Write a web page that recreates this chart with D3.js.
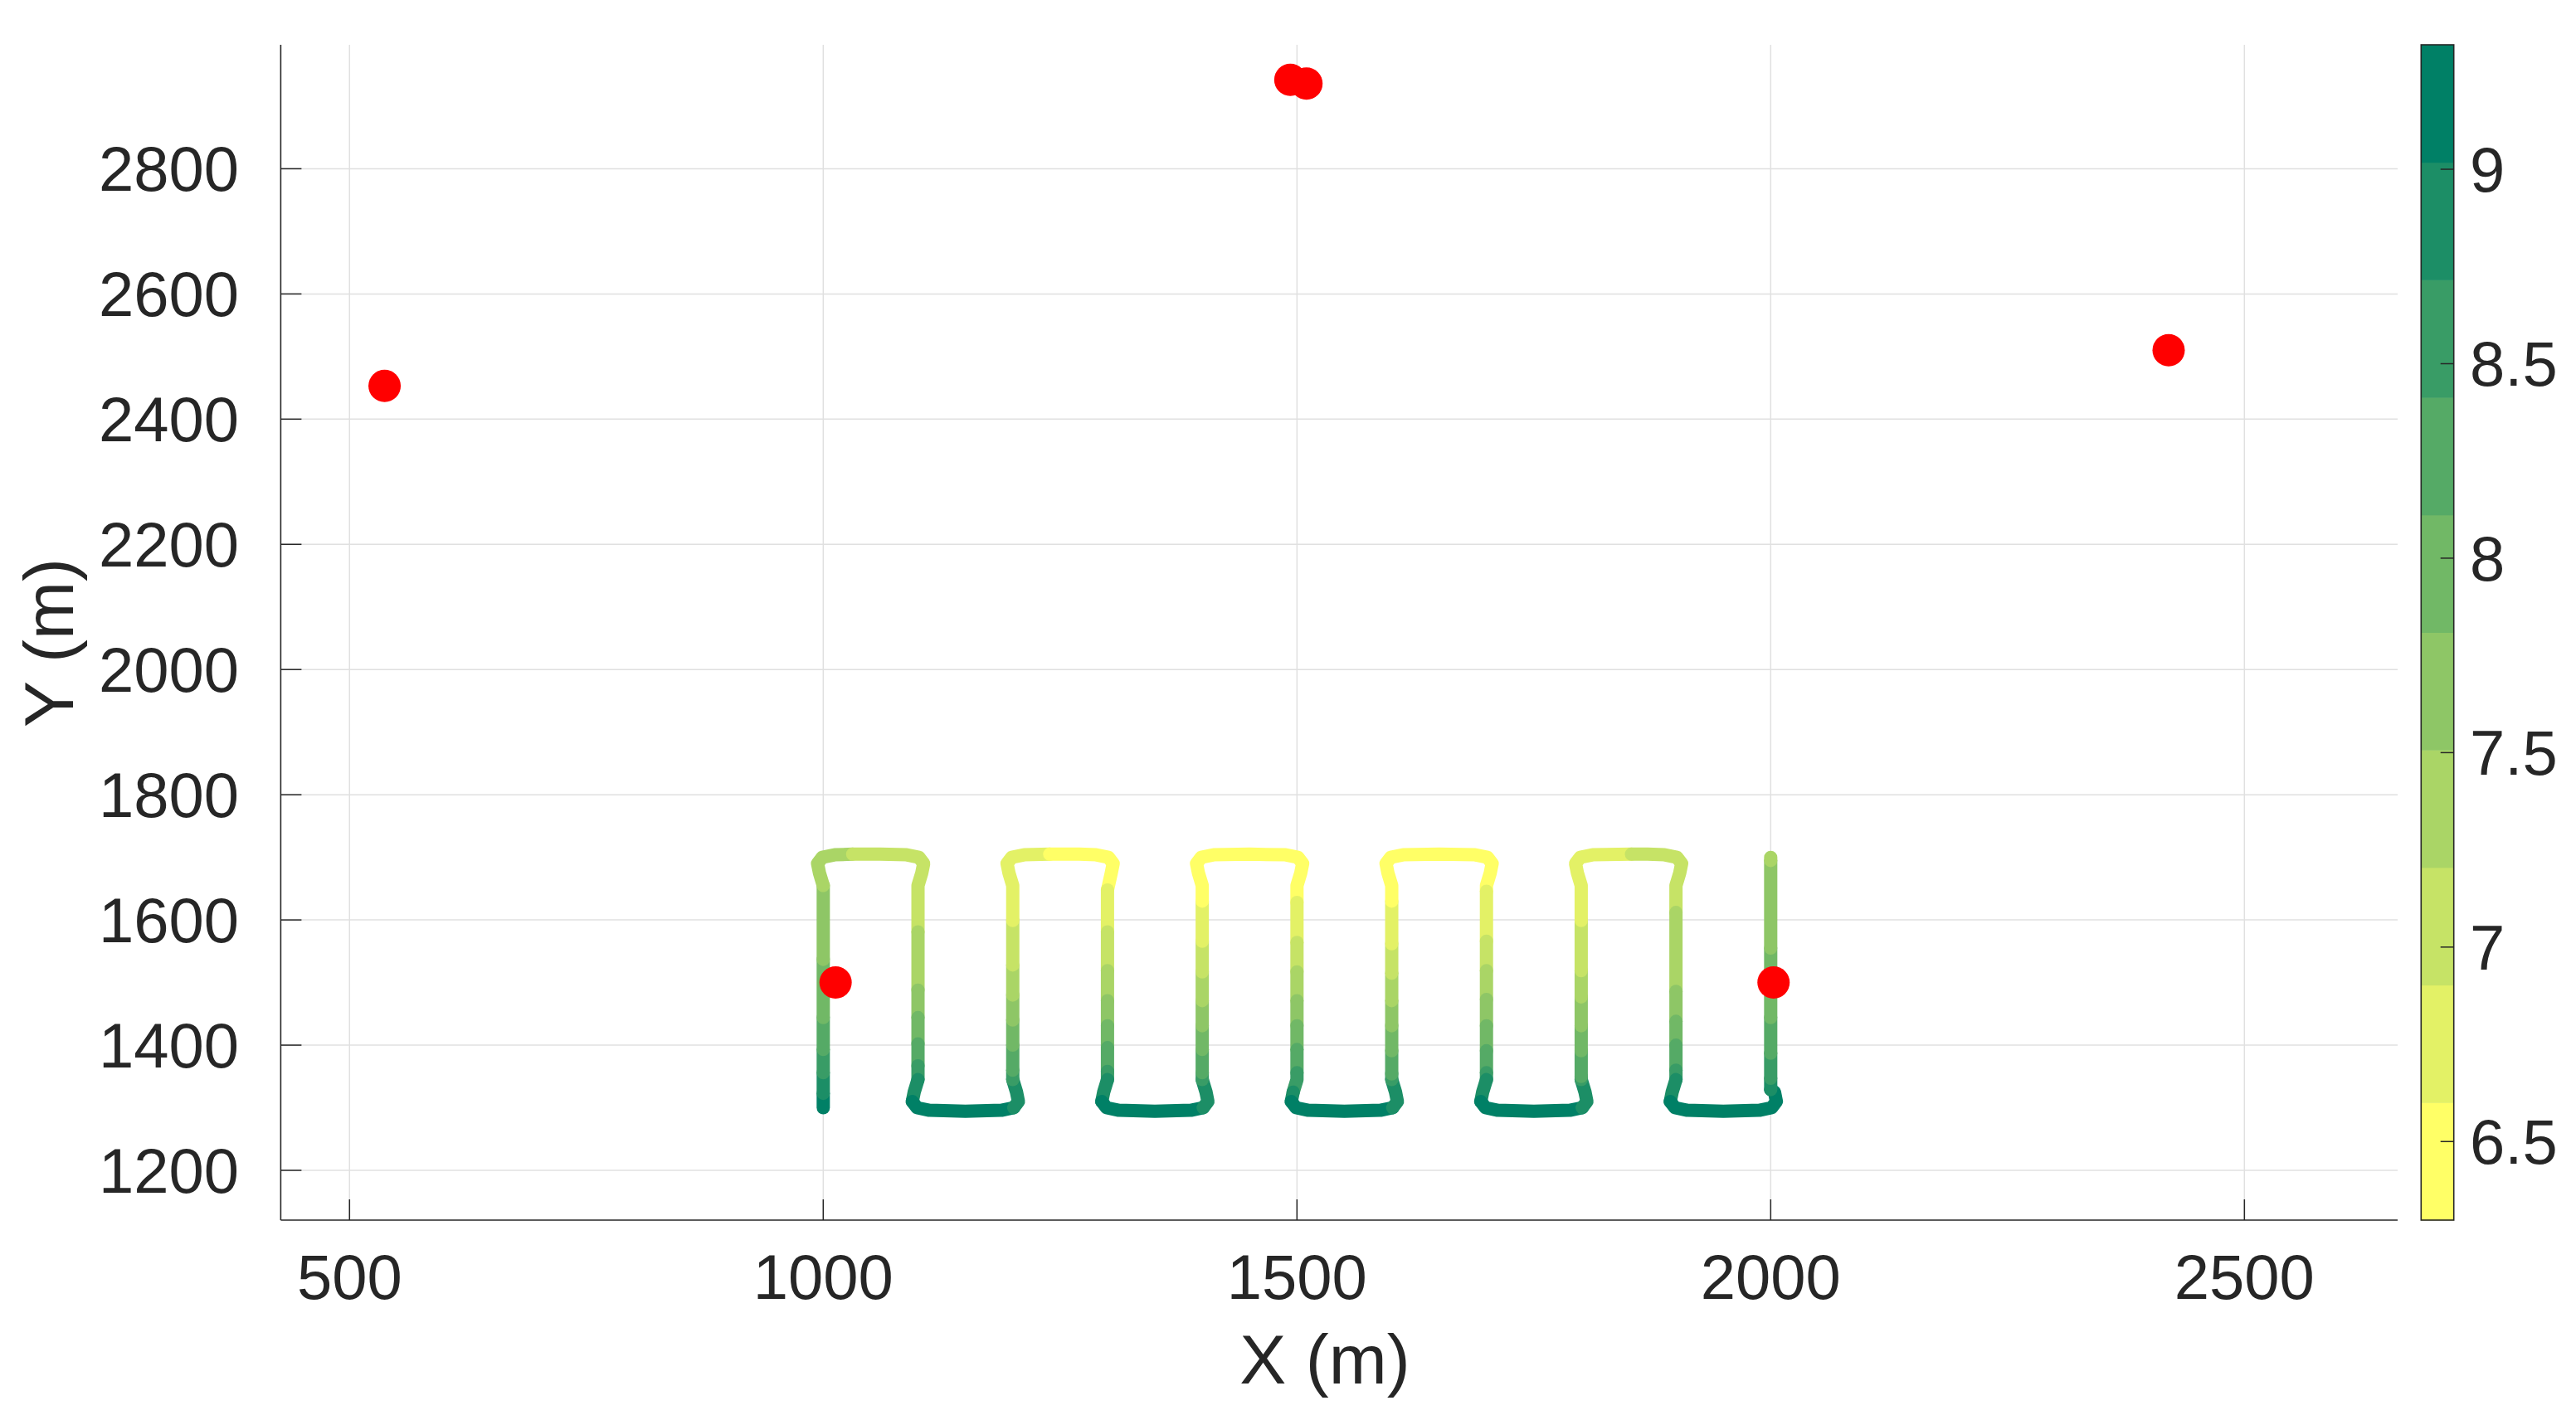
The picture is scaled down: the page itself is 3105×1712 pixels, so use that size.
<!DOCTYPE html>
<html><head><meta charset="utf-8">
<script src="https://cdn.jsdelivr.net/npm/d3@7"></script>
<style>html,body{margin:0;padding:0;background:#fff;}svg{display:block;}</style>
</head><body>
<svg id="chart" width="3105" height="1712"></svg>
<script>
// ---------- data ----------
const xTicks = [500, 1000, 1500, 2000, 2500];
const yTicks = [1200, 1400, 1600, 1800, 2000, 2200, 2400, 2600, 2800];
const cTicks = [6.5, 7, 7.5, 8, 8.5, 9];
const xDomain = [427.4, 2661.7];
const yDomain = [1120.5, 2998];
const cDomain = [6.298, 9.32];
const nLevels = 10;

// anchors (red dots)
const anchorX = [537, 1493, 1510, 2420, 1013, 2003];
const anchorY = [2453, 2942, 2936, 2510, 1500, 1500];

// trajectory: [x, y, value]
const track = [
[1000,1300,9.17],[1000,1323,9.17],[1000,1356,8.86],[1000,1393,8.56],[1000,1444,8.26],[1000,1537,7.96],[1000,1655,7.66],
[996,1675,7.36],[994,1690,7.36],[999,1700,7.36],[1012,1704,7.36],[1031,1705,7.36],
[1060,1705,7.05],[1088,1704,7.05],[1101,1700,7.05],[1106,1690,7.05],[1104,1675,7.05],[1100,1655,7.05],
[1100,1581,7.05],[1100,1488,7.36],[1100,1444,7.66],[1100,1402,7.96],[1100,1367,8.26],[1100,1345,8.56],
[1096,1325,8.86],[1094,1310,8.86],[1099,1300,9.17],[1112,1296,9.17],[1150,1294.5,9.17],[1188,1296,9.17],[1201,1300,9.17],
[1206,1310,8.86],[1204,1325,8.86],[1200,1345,8.86],
[1200,1360,8.56],[1200,1400,8.26],[1200,1440,7.96],[1200,1480,7.66],[1200,1528,7.36],[1200,1599,7.05],[1200,1655,6.75],
[1196,1675,6.75],[1194,1690,6.75],[1199,1700,6.75],[1212,1704,6.75],[1239,1705,6.75],
[1270,1705,6.45],[1288,1704,6.45],[1301,1700,6.45],[1306,1690,6.45],[1304,1675,6.45],[1300,1648,6.45],
[1300,1581,6.75],[1300,1519,7.05],[1300,1471,7.36],[1300,1431,7.66],[1300,1396,7.96],[1300,1358,8.26],[1300,1345,8.56],
[1296,1325,8.86],[1294,1310,8.86],[1299,1300,9.17],[1312,1296,9.17],[1350,1294.5,9.17],[1388,1296,9.17],[1401,1300,9.17],
[1406,1310,8.86],[1404,1325,8.86],[1400,1345,8.86],
[1400,1356,8.56],[1400,1393,8.26],[1400,1431,7.96],[1400,1471,7.66],[1400,1517,7.36],[1400,1566,7.05],[1400,1630,6.75],[1400,1655,6.45],
[1396,1675,6.45],[1394,1690,6.45],[1399,1700,6.45],[1412,1704,6.45],[1450,1705,6.45],[1488,1704,6.45],[1501,1700,6.45],[1506,1690,6.45],[1504,1675,6.45],[1500,1655,6.45],
[1500,1628,6.45],[1500,1564,6.75],[1500,1517,7.05],[1500,1471,7.36],[1500,1431,7.66],[1500,1393,7.96],[1500,1356,8.26],[1500,1345,8.56],
[1496,1325,8.56],[1494,1310,8.86],[1499,1300,9.17],[1512,1296,9.17],[1550,1294.5,9.17],[1588,1296,9.17],[1601,1300,9.17],
[1606,1310,8.86],[1604,1325,8.86],[1600,1345,8.86],
[1600,1354,8.56],[1600,1391,8.26],[1600,1431,7.96],[1600,1471,7.66],[1600,1515,7.36],[1600,1562,7.05],[1600,1630,6.75],[1600,1655,6.45],
[1596,1675,6.45],[1594,1690,6.45],[1599,1700,6.45],[1612,1704,6.45],[1650,1705,6.45],[1688,1704,6.45],[1701,1700,6.45],[1706,1690,6.45],[1704,1675,6.45],[1700,1655,6.45],
[1700,1646,6.45],[1700,1566,6.75],[1700,1519,7.05],[1700,1473,7.36],[1700,1431,7.66],[1700,1391,7.96],[1700,1356,8.26],[1700,1345,8.56],
[1696,1325,8.86],[1694,1310,8.86],[1699,1300,9.17],[1712,1296,9.17],[1750,1294.5,9.17],[1788,1296,9.17],[1801,1300,9.17],
[1806,1310,8.86],[1804,1325,8.86],[1800,1345,8.86],
[1800,1350,8.56],[1800,1391,8.26],[1800,1431,7.96],[1800,1477,7.66],[1800,1519,7.36],[1800,1599,7.05],[1800,1655,6.75],
[1796,1675,6.75],[1794,1690,6.75],[1799,1700,6.75],[1812,1704,6.75],[1853,1705,6.75],
[1870,1705,7.05],[1888,1704,7.05],[1901,1700,7.05],[1906,1690,7.05],[1904,1675,7.05],[1900,1655,7.05],
[1900,1612,7.05],[1900,1486,7.36],[1900,1438,7.66],[1900,1400,7.96],[1900,1360,8.26],[1900,1345,8.56],
[1896,1325,8.86],[1894,1310,8.86],[1899,1300,9.17],[1912,1296,9.17],[1950,1294.5,9.17],[1988,1296,9.17],[2001,1300,9.17],
[2006,1310,9.17],[2004,1325,9.17],[2000,1329,9.17],
[2000,1347,8.86],[2000,1387,8.56],[2000,1444,8.26],[2000,1555,7.96],[2000,1695,7.66],[2000,1700,7.36]
];

// ---------- layout ----------
const L = 338.4, R = 2890, T = 54, B = 1471;
const cbL = 2918.3, cbR = 2957.7;
const ink = "#262626";
const font = "'Liberation Sans', Arial, Helvetica, sans-serif";

const svg = d3.select("#chart");
const x = d3.scaleLinear().domain(xDomain).range([L, R]);
const y = d3.scaleLinear().domain(yDomain).range([B, T]);
const cy = d3.scaleLinear().domain(cDomain).range([B, T]);

// flipped "summer" colormap (low = yellow, high = dark green)
const colors = d3.range(nLevels).map(i => {
  const r = 1 - i / (nLevels - 1);
  return d3.rgb(Math.round(255 * r), Math.round(255 * (0.5 + r / 2)), Math.round(255 * 0.4)).formatHex();
});
const color = d3.scaleQuantize().domain(cDomain).range(colors);

// grid
const grid = svg.append("g").attr("stroke", "#e0e0e0").attr("stroke-width", 1.5);
grid.selectAll(".gx").data(xTicks).join("line")
  .attr("x1", d => x(d)).attr("x2", d => x(d)).attr("y1", T).attr("y2", B);
grid.selectAll(".gy").data(yTicks).join("line")
  .attr("x1", L).attr("x2", R).attr("y1", d => y(d)).attr("y2", d => y(d));

// axes lines
svg.append("line").attr("x1", L).attr("x2", L).attr("y1", T).attr("y2", B).attr("stroke", ink).attr("stroke-width", 1.6);
svg.append("line").attr("x1", L).attr("x2", R).attr("y1", B).attr("y2", B).attr("stroke", ink).attr("stroke-width", 1.6);

// ticks (inward)
svg.append("g").selectAll("line").data(xTicks).join("line")
  .attr("x1", d => x(d)).attr("x2", d => x(d)).attr("y1", B).attr("y2", B - 25)
  .attr("stroke", ink).attr("stroke-width", 1.5);
svg.append("g").selectAll("line").data(yTicks).join("line")
  .attr("x1", L).attr("x2", L + 25).attr("y1", d => y(d)).attr("y2", d => y(d))
  .attr("stroke", ink).attr("stroke-width", 1.5);

// tick labels
svg.append("g").selectAll("text").data(xTicks).join("text")
  .attr("x", d => x(d)).attr("y", 1566).attr("text-anchor", "middle")
  .attr("font-family", font).attr("font-size", 76).attr("fill", ink).text(d => d);
svg.append("g").selectAll("text").data(yTicks).join("text")
  .attr("x", 288).attr("y", d => y(d) + 27).attr("text-anchor", "end")
  .attr("font-family", font).attr("font-size", 76).attr("fill", ink).text(d => d);

// axis labels
svg.append("text").attr("x", 1597).attr("y", 1668).attr("text-anchor", "middle")
  .attr("font-family", font).attr("font-size", 84).attr("fill", ink).text("X (m)");
svg.append("text").attr("transform", "translate(88,775) rotate(-90)").attr("text-anchor", "middle")
  .attr("font-family", font).attr("font-size", 84).attr("fill", ink).text("Y (m)");

// trajectory: group consecutive same-colour points into polylines, drawn in order
const line = d3.line().x(d => x(d[0])).y(d => y(d[1]));
const groups = [];
for (let i = 1; i < track.length; i++) {
  const c = color(track[i][2]);
  const last = groups[groups.length - 1];
  if (last && last.c === c) last.pts.push(track[i]);
  else groups.push({ c, pts: [track[i - 1], track[i]] });
}
svg.append("g").attr("fill", "none").attr("stroke-width", 16)
  .attr("stroke-linecap", "round").attr("stroke-linejoin", "round")
  .selectAll("path").data(groups).join("path")
  .attr("stroke", d => d.c).attr("d", d => line(d.pts));

// anchors
svg.append("g").selectAll("circle").data(anchorX.map((v, i) => [v, anchorY[i]])).join("circle")
  .attr("cx", d => x(d[0])).attr("cy", d => y(d[1])).attr("r", 19.5).attr("fill", "#ff0000");

// colorbar
const step = (cDomain[1] - cDomain[0]) / nLevels;
svg.append("g").selectAll("rect").data(colors).join("rect")
  .attr("x", cbL).attr("width", cbR - cbL)
  .attr("y", (d, i) => cy(cDomain[0] + (i + 1) * step))
  .attr("height", (d, i) => cy(cDomain[0] + i * step) - cy(cDomain[0] + (i + 1) * step) + 0.5)
  .attr("fill", d => d);
svg.append("rect").attr("x", cbL).attr("y", T).attr("width", cbR - cbL).attr("height", B - T)
  .attr("fill", "none").attr("stroke", ink).attr("stroke-width", 1.6);
svg.append("g").selectAll("line").data(cTicks).join("line")
  .attr("x1", cbR - 16).attr("x2", cbR).attr("y1", d => cy(d)).attr("y2", d => cy(d))
  .attr("stroke", ink).attr("stroke-width", 1.5);
svg.append("g").selectAll("text").data(cTicks).join("text")
  .attr("x", 2977).attr("y", d => cy(d) + 27).attr("text-anchor", "start")
  .attr("font-family", font).attr("font-size", 76).attr("fill", ink).text(d => d);
</script>
</body></html>
